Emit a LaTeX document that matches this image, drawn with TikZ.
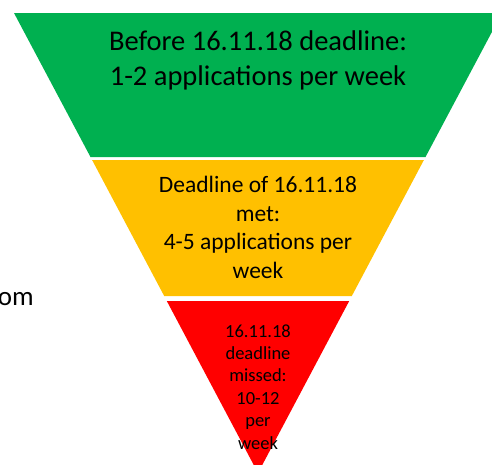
\documentclass[tikz,border=0pt]{standalone}
\usepackage{fontspec}
\setmainfont{Carlito}
\definecolor{bandgreen}{HTML}{00B050}
\definecolor{bandyellow}{HTML}{FFC000}
\definecolor{bandred}{HTML}{FF0000}

\begin{document}
\begin{tikzpicture}[x=1pt,y=-1pt,
  bandtext/.style={align=center, inner sep=0pt, anchor=base}]

\useasboundingbox (0,0) rectangle (492,464);
\clip (0,0) rectangle (492,464);

% funnel bands
\fill [color=bandgreen] (14,13) -- (502,13) -- (425.5,157) -- (90.5,157) -- cycle;
\fill [color=bandyellow] (92.1,160) -- (423.9,160) -- (351.8,296) -- (164.2,296) -- cycle;
\fill [color=bandred] (166.8,301) -- (349.2,301) -- (258,473) -- cycle;

% texts (base = last line)
\node [bandtext, font=\fontsize{28.5}{35}\selectfont] (before) at (258,85)
  {Before 16.11.18 deadline:\\1-2 applications per week};
\node [bandtext, font=\fontsize{23.5}{28.5}\selectfont] (met) at (258,278)
  {Deadline of 16.11.18\\met:\\4-5 applications per\\week};
\node [bandtext, font=\fontsize{18.5}{22.4}\selectfont] (missed) at (258,449)
  {16.11.18\\deadline\\missed:\\10-12\\per\\week};

\node [inner sep=0pt, anchor=base east, font=\fontsize{27}{32}\selectfont] (cut) at (34,305) {om};

\end{tikzpicture}
\end{document}
